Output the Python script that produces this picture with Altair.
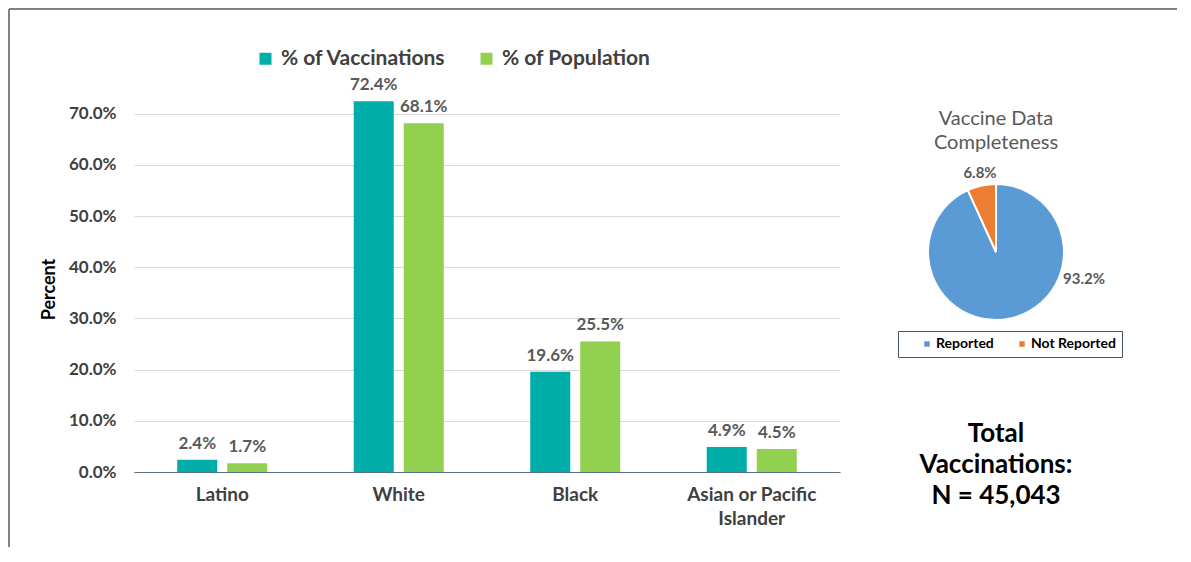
import altair as alt
import pandas as pd

# ---------------- data ----------------
categories = ["Latino", "White", "Black", "Asian or Pacific Islander"]
series = ["% of Vaccinations", "% of Population"]
pct_vaccinations = [0.024, 0.724, 0.196, 0.049]
pct_population = [0.017, 0.681, 0.255, 0.045]
y_ticks = [0.0, 0.1, 0.2, 0.3, 0.4, 0.5, 0.6, 0.7]

pie_status = ["Reported", "Not Reported"]
pie_values = [0.932, 0.068]
pie_title = ["Vaccine Data", "Completeness"]
total_lines = ["Total", "Vaccinations:", "N = 45,043"]
y_title = "Percent"

# ---------------- styles ----------------
FONT = "Lato"
TEAL = "#00ADA8"
GREEN = "#92D050"
BLUE = "#5B9BD5"
ORANGE = "#ED7D31"
TXT = "#404040"
LBL = "#595959"

W, H = 706, 384

rows = []
for i, c in enumerate(categories):
    rows.append({"Category": c, "Series": series[0], "Value": pct_vaccinations[i]})
    rows.append({"Category": c, "Series": series[1], "Value": pct_population[i]})
bar_df = pd.DataFrame(rows)
pie_df = pd.DataFrame({"Status": pie_status, "Value": pie_values, "Idx": list(range(len(pie_status)))})
one = pd.DataFrame({"a": [0]})

x_enc = alt.X(
    "Category:N", sort=categories,
    scale=alt.Scale(paddingInner=0, paddingOuter=0),
    axis=alt.Axis(
        title=None, labelAngle=0, ticks=False, labelPadding=13,
        labelFont=FONT, labelFontSize=19, labelFontWeight="bold", labelColor=TXT,
        labelLineHeight=24, domainColor="#5F6F82", domainWidth=1.2,
        labelExpr="datum.label == 'Asian or Pacific Islander' ? ['Asian or Pacific', 'Islander'] : datum.label",
    ),
)
xo_enc = alt.XOffset("Series:N", sort=series,
                     scale=alt.Scale(paddingInner=0.2, paddingOuter=0.865))
y_enc = alt.Y(
    "Value:Q", scale=alt.Scale(domain=[0, 0.75], nice=False),
    axis=alt.Axis(
        values=y_ticks, format=".1%", title=y_title, ticks=False, domain=False,
        labelFont=FONT, labelFontSize=17, labelFontWeight="bold", labelColor=TXT,
        labelPadding=18, gridColor="#D9D9D9", gridWidth=1.2,
        titleFont=FONT, titleFontSize=18, titleFontWeight="bold", titleColor="#000000",
        titleAngle=270, titleX=-85, titleY=201, titleAlign="center", titleBaseline="middle",
    ),
)

bars = alt.Chart(bar_df).mark_bar().encode(
    x=x_enc, xOffset=xo_enc, y=y_enc,
    color=alt.Color(
        "Series:N", sort=series,
        scale=alt.Scale(domain=series, range=[TEAL, GREEN]),
        legend=alt.Legend(
            title=None, orient="none", legendX=121, legendY=-40, direction="horizontal",
            symbolType="square", symbolSize=144, symbolStrokeWidth=0,
            labelFont=FONT, labelFontSize=21, labelFontWeight="bold", labelColor=TXT,
            labelLimit=400, columnPadding=30, labelOffset=5,
        ),
    ),
)

bar_labels = alt.Chart(bar_df).mark_text(
    baseline="bottom", dy=-7, font=FONT, fontSize=17, fontWeight="bold", color=LBL
).encode(x=x_enc, xOffset=xo_enc, y=y_enc, text=alt.Text("Value:Q", format=".1%"))

pie = alt.Chart(pie_df).mark_arc(outerRadius=68, stroke="white", strokeWidth=2).encode(
    theta=alt.Theta("Value:Q", stack=True),
    order=alt.Order("Idx:Q"),
    color=alt.Color(
        "Status:N", sort=pie_status,
        scale=alt.Scale(domain=pie_status, range=[BLUE, ORANGE]),
        legend=alt.Legend(
            title=None, orient="none", legendX=764, legendY=243, direction="horizontal",
            symbolType="square", symbolSize=30, symbolStrokeWidth=0, symbolOffset=16,
            labelFont=FONT, labelFontSize=14, labelFontWeight="bold", labelColor="#000000",
            labelLimit=300, columnPadding=5, labelOffset=2, padding=6,
            strokeColor="#44546A", fillColor="white",
        ),
    ),
    x=alt.value(862), y=alt.value(164),
)

pie_lab_rep = alt.Chart(pie_df).transform_filter(alt.datum.Status == pie_status[0]).mark_text(
    font=FONT, fontSize=15, fontWeight="bold", color=LBL
).encode(text=alt.Text("Value:Q", format=".1%"), x=alt.value(950), y=alt.value(191))

pie_lab_not = alt.Chart(pie_df).transform_filter(alt.datum.Status == pie_status[1]).mark_text(
    font=FONT, fontSize=15, fontWeight="bold", color=LBL
).encode(text=alt.Text("Value:Q", format=".1%"), x=alt.value(846), y=alt.value(85))

pie_ttl = alt.Chart(one).mark_text(
    font=FONT, fontSize=20, color=LBL, lineHeight=24, baseline="middle"
).encode(text=alt.value(pie_title), x=alt.value(862), y=alt.value(31))

total_txt = alt.Chart(one).mark_text(
    font=FONT, fontSize=26, fontWeight="bold", color="#000000", lineHeight=31, baseline="middle"
).encode(text=alt.value(total_lines), x=alt.value(862), y=alt.value(346))

border_top = alt.Chart(one).mark_rule(color="#595959", strokeWidth=1.5).encode(
    x=alt.value(-125), x2=alt.value(1043), y=alt.value(-79))
border_left = alt.Chart(one).mark_rule(color="#595959", strokeWidth=1.5).encode(
    x=alt.value(-125), y=alt.value(-79), y2=alt.value(459))

chart = alt.layer(
    border_top, border_left, bars, bar_labels, pie, pie_lab_rep, pie_lab_not, pie_ttl, total_txt
).resolve_scale(color="independent").properties(
    width=W, height=H, padding=0, background="white"
).configure_view(stroke=None)

chart.save("out.html", embed_options={"renderer": "svg", "actions": False})
